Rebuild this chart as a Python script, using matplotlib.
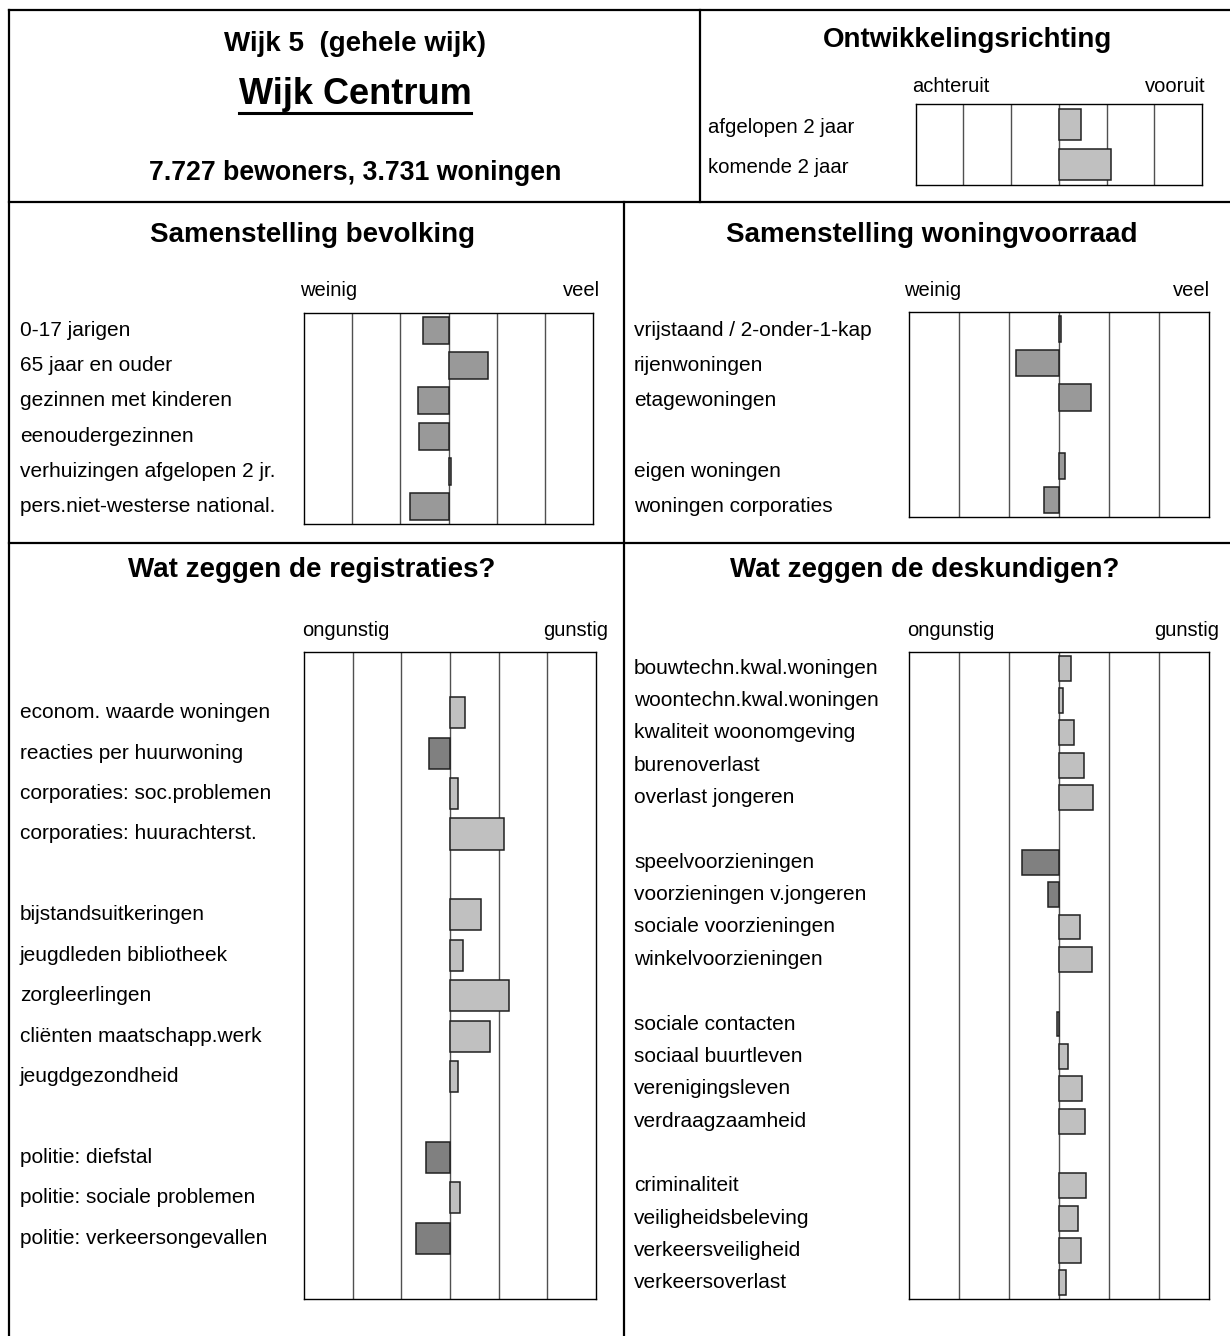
import numpy as np
import matplotlib
matplotlib.use("Agg")
from matplotlib import pyplot as plt
from matplotlib.lines import Line2D
from matplotlib import transforms

plt.rcParams['font.family'] = ['Liberation Sans', 'DejaVu Sans']

# ---- gegevens ----
richting_labels = ["afgelopen 2 jaar", "komende 2 jaar"]
richting_waarden = [0.46, 1.10]

bevolking_labels = ["0-17 jarigen", "65 jaar en ouder", "gezinnen met kinderen",
                    "eenoudergezinnen", "verhuizingen afgelopen 2 jr.",
                    "pers.niet-westerse national."]
bevolking_waarden = [-0.52, 0.81, -0.64, -0.62, 0.05, -0.79]

woning_labels = ["vrijstaand / 2-onder-1-kap", "rijenwoningen", "etagewoningen", "",
                 "eigen woningen", "woningen corporaties"]
woning_waarden = [0.04, -0.86, 0.64, np.nan, 0.12, -0.30]

registratie_labels = ["", "econom. waarde woningen", "reacties per huurwoning",
                      "corporaties: soc.problemen", "corporaties: huurachterst.", "",
                      "bijstandsuitkeringen", "jeugdleden bibliotheek", "zorgleerlingen",
                      "cliënten maatschapp.werk", "jeugdgezondheid", "",
                      "politie: diefstal", "politie: sociale problemen",
                      "politie: verkeersongevallen", ""]
registratie_waarden = [np.nan, 0.31, -0.43, 0.16, 1.11, np.nan,
                       0.64, 0.27, 1.21, 0.82, 0.16, np.nan,
                       -0.49, 0.20, -0.70, np.nan]

deskundige_labels = ["bouwtechn.kwal.woningen", "woontechn.kwal.woningen",
                     "kwaliteit woonomgeving", "burenoverlast", "overlast jongeren", "",
                     "speelvoorzieningen", "voorzieningen v.jongeren",
                     "sociale voorzieningen", "winkelvoorzieningen", "",
                     "sociale contacten", "sociaal buurtleven", "verenigingsleven",
                     "verdraagzaamheid", "",
                     "criminaliteit", "veiligheidsbeleving", "verkeersveiligheid",
                     "verkeersoverlast"]
deskundige_waarden = [0.24, 0.08, 0.30, 0.50, 0.68, np.nan,
                      -0.74, -0.22, 0.42, 0.66, np.nan,
                      -0.05, 0.18, 0.46, 0.52, np.nan,
                      0.54, 0.38, 0.44, 0.14]

W, H = 1230, 1336
fig = plt.figure(figsize=(W / 100, H / 100), dpi=100)
fig.patch.set_facecolor("white")

LICHT = "#c0c0c0"
MIDDEN = "#999999"
DONKER = "#808080"
KOP = 20       # kopjes
REGEL = 15     # namen bij de balken
SCHAAL = 14.5  # weinig/veel, ongunstig/gunstig


def fx(px):
    return px / W


def fy(py):
    return 1 - py / H


def lijn(x0, y0, x1, y1, lw=1.6):
    fig.add_artist(Line2D([fx(x0), fx(x1)], [fy(y0), fy(y1)], color="black",
                          lw=lw, transform=fig.transFigure, solid_capstyle="projecting"))


def tekst(x, y, s, **kw):
    return fig.text(fx(x), fy(y), s, **kw)


def paneel(left, top, right, bottom, waarden, kleur_fn):
    ax = fig.add_axes([fx(left), fy(bottom), (right - left) / W, (bottom - top) / H])
    n = len(waarden)
    ax.set_xlim(-3, 3)
    ax.set_ylim(n - 0.5, -0.5)
    for x in range(-2, 3):
        ax.axvline(x, color="#505050", lw=1.0, zorder=1)
    for i, v in enumerate(waarden):
        if np.isnan(v):
            continue
        ax.barh(i, v, height=0.77, left=0, color=kleur_fn(v),
                edgecolor="#202020", linewidth=1.1, zorder=3)
    ax.set_xticks([])
    ax.set_yticks([])
    for s in ax.spines.values():
        s.set_color("black")
        s.set_linewidth(1.0)
    return ax


def labels(ax, x, namen, size=REGEL):
    tr = transforms.blended_transform_factory(fig.transFigure, ax.transData)
    for i, naam in enumerate(namen):
        if naam:
            ax.text(fx(x), i, naam, transform=tr, ha="left", va="center",
                    fontsize=size, clip_on=False)


# ---- kader ----
lijn(9, 10, 1230, 10)
lijn(9, 10, 9, 1336)
lijn(9, 202, 1230, 202)
lijn(9, 543, 1230, 543)
lijn(700, 10, 700, 202)
lijn(624, 202, 624, 1336)

# ---- kop ----
tekst(355, 44, "Wijk 5  (gehele wijk)", ha="center", va="center",
      fontsize=KOP, fontweight="bold")
titel = tekst(355, 95, "Wijk Centrum", ha="center", va="center",
              fontsize=26, fontweight="bold")
tekst(355, 173, "7.727 bewoners, 3.731 woningen", ha="center", va="center",
      fontsize=19.3, fontweight="bold")

# onderstreping van de wijknaam
fig.canvas.draw()
bb = titel.get_window_extent()
fig.add_artist(Line2D([bb.x0 / W, bb.x1 / W], [fy(113), fy(113)], color="black",
                      lw=2.2, transform=fig.transFigure))

# ---- ontwikkelingsrichting ----
tekst(967, 40, "Ontwikkelingsrichting", ha="center", va="center",
      fontsize=KOP, fontweight="bold")
tekst(912, 86, "achteruit", ha="left", va="center", fontsize=SCHAAL)
tekst(1206, 86, "vooruit", ha="right", va="center", fontsize=SCHAAL)
ax1 = paneel(915.7, 104, 1202, 185, richting_waarden, lambda v: LICHT)
tr1 = transforms.blended_transform_factory(fig.transFigure, ax1.transData)
for i, naam in enumerate(richting_labels):
    ax1.text(fx(708), i + 0.08, naam, transform=tr1, ha="left", va="center",
             fontsize=14.7, clip_on=False)

# ---- samenstelling bevolking ----
tekst(312, 235, "Samenstelling bevolking", ha="center", va="center",
      fontsize=KOP, fontweight="bold")
tekst(300, 290, "weinig", ha="left", va="center", fontsize=SCHAAL)
tekst(600, 290, "veel", ha="right", va="center", fontsize=SCHAAL)
ax2 = paneel(304, 313, 593, 524, bevolking_waarden, lambda v: MIDDEN)
labels(ax2, 20, bevolking_labels)

# ---- samenstelling woningvoorraad ----
tekst(932, 235, "Samenstelling woningvoorraad", ha="center", va="center",
      fontsize=KOP, fontweight="bold")
tekst(904, 290, "weinig", ha="left", va="center", fontsize=SCHAAL)
tekst(1210, 290, "veel", ha="right", va="center", fontsize=SCHAAL)
ax3 = paneel(909, 312, 1209, 517, woning_waarden, lambda v: MIDDEN)
# regels op dezelfde hoogte als bij de bevolking
labels(ax2, 634, woning_labels)


def kleur(v):
    return DONKER if v < -0.1 else LICHT


# ---- registraties ----
tekst(312, 570, "Wat zeggen de registraties?", ha="center", va="center",
      fontsize=KOP, fontweight="bold")
tekst(302, 630, "ongunstig", ha="left", va="center", fontsize=SCHAAL)
tekst(608, 630, "gunstig", ha="right", va="center", fontsize=SCHAAL)
ax4 = paneel(304, 652, 596, 1299, registratie_waarden, kleur)
labels(ax4, 20, registratie_labels)

# ---- deskundigen ----
tekst(925, 570, "Wat zeggen de deskundigen?", ha="center", va="center",
      fontsize=KOP, fontweight="bold")
tekst(907, 630, "ongunstig", ha="left", va="center", fontsize=SCHAAL)
tekst(1219, 630, "gunstig", ha="right", va="center", fontsize=SCHAAL)
ax5 = paneel(909, 652, 1209, 1299, deskundige_waarden, kleur)
labels(ax5, 634, deskundige_labels)

fig.savefig("out.png", dpi=100, facecolor="white")
